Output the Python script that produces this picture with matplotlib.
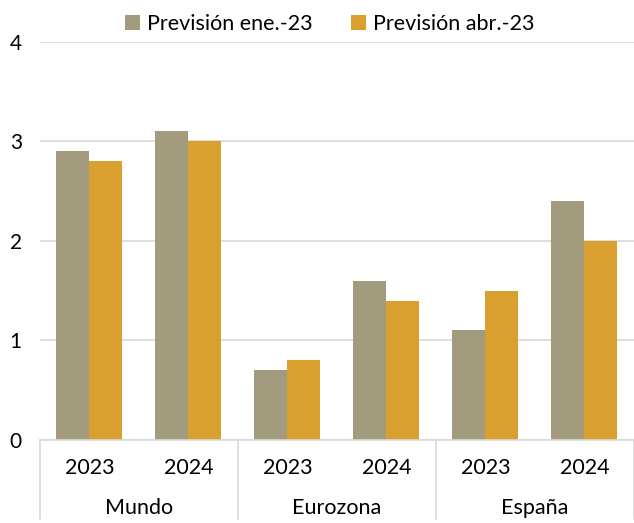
import matplotlib.pyplot as plt
import matplotlib.transforms as mtransforms
import numpy as np

regions = ["Mundo", "Eurozona", "España"]
years = ["2023", "2024"]
prev_ene = [2.9, 3.1, 0.7, 1.6, 1.1, 2.4]
prev_abr = [2.8, 3.0, 0.8, 1.4, 1.5, 2.0]
series_names = ["Previsión ene.-23", "Previsión abr.-23"]
colors = ["#A39B7E", "#D9A030"]

plt.rcParams['font.family'] = ['Lato', 'DejaVu Sans']

fig = plt.figure(figsize=(6.34, 5.23), dpi=100)
ax = fig.add_axes([0.063, 0.159, 0.937, 0.761])

x = np.arange(len(prev_ene))
w = 1 / 3
ax.bar(x - w / 2, prev_ene, w, color=colors[0], label=series_names[0])
ax.bar(x + w / 2, prev_abr, w, color=colors[1], label=series_names[1])

ax.set_xlim(-0.5, len(x) - 0.5)
ax.set_ylim(0, 4)
ax.set_yticks([0, 1, 2, 3, 4])
ax.grid(axis='y', color='#D9D9D9', linewidth=1.2)
ax.set_axisbelow(True)
for s in ['top', 'right', 'left']:
    ax.spines[s].set_visible(False)
ax.spines['bottom'].set_color('#D9D9D9')
ax.spines['bottom'].set_linewidth(1.2)
ax.tick_params(axis='y', length=0, labelsize=15, pad=13)
ax.tick_params(axis='x', length=0)
ax.set_xticks([])

# two-level category axis
trans = mtransforms.blended_transform_factory(ax.transData, ax.transAxes)
for i in x:
    ax.text(i, -0.07, years[i % 2], transform=trans, ha='center', va='center', fontsize=15.5)
for g, name in enumerate(regions):
    ax.text(2 * g + 0.5, -0.17, name, transform=trans, ha='center', va='center', fontsize=15.5)
for b in [-0.5, 1.5, 3.5, 5.5]:
    ax.plot([b, b], [0, -0.2], transform=trans, color='#D9D9D9', linewidth=1.2, clip_on=False)

fig.legend(loc='upper center', bbox_to_anchor=(0.52, 1.01), ncol=2, frameon=False,
           fontsize=15.5, handlelength=0.7, handleheight=0.7, handletextpad=0.3,
           columnspacing=1.8)

fig.savefig("out.png", dpi=100)
